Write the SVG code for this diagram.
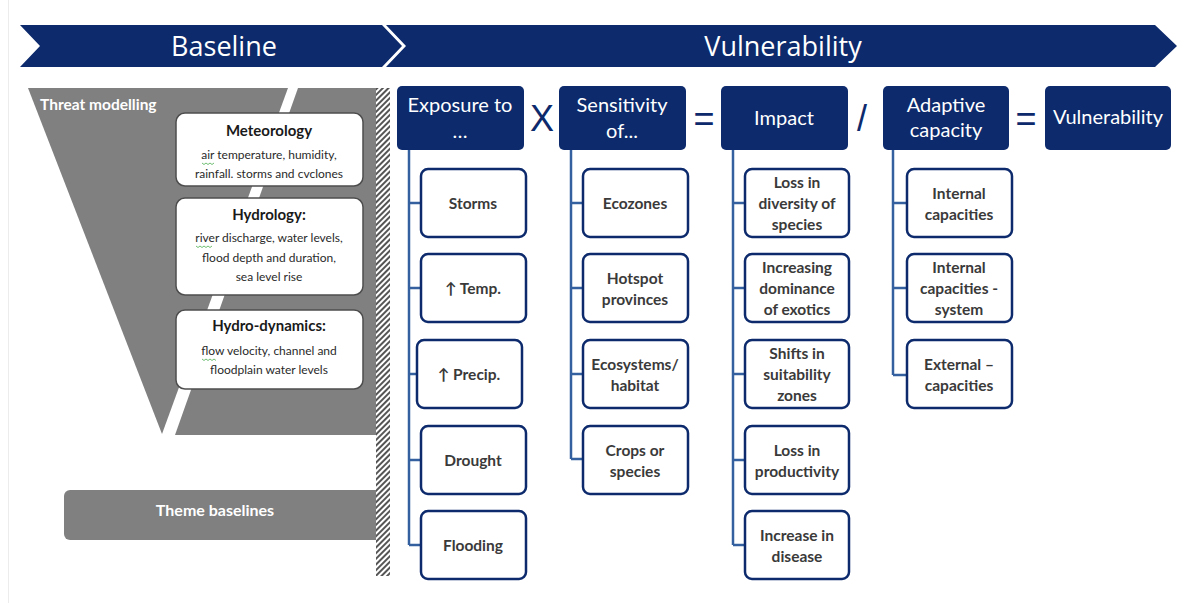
<svg xmlns="http://www.w3.org/2000/svg" width="1200" height="603" viewBox="0 0 1200 603">
  <defs>
    <pattern id="hatch" width="4" height="4" patternUnits="userSpaceOnUse" patternTransform="rotate(45)">
      <rect width="4" height="4" fill="#ffffff"/>
      <rect width="2" height="4" fill="#555555"/>
    </pattern>
    <style>
      .band { fill: #0c2a6c; }
      .bandtxt { font-family: "Open Sans", "Liberation Sans", sans-serif; font-size: 27px; fill: #ffffff; text-anchor: middle; dominant-baseline: central; }
      .grey { fill: #808080; }
      .greytxt { font-family: Lato, "Liberation Sans", sans-serif; font-weight: bold; fill: #ffffff; }
      .card { fill: #ffffff; stroke: #4d4d4d; stroke-width: 1.5; }
      .cardhead { font-family: Lato, "Liberation Sans", sans-serif; font-weight: bold; font-size: 15px; fill: #1a1a1a; text-anchor: middle; }
      .cardbody { font-family: Lato, "Liberation Sans", sans-serif; font-size: 12px; fill: #2a2a2a; text-anchor: middle; }
      .squiggle { fill: none; stroke: #4caf50; stroke-width: 0.8; }
      .head { fill: #0c2a6c; }
      .headtxt { font-family: Lato, "Liberation Sans", sans-serif; font-size: 20px; fill: #ffffff; text-anchor: middle; }
      .op { font-family: "Liberation Sans", Arial, sans-serif; font-size: 36px; fill: #0c2a6c; text-anchor: middle; }
      .item { fill: #ffffff; stroke: #0c2a6c; stroke-width: 2.5; }
      .itemtxt { font-family: Lato, "Liberation Sans", sans-serif; font-weight: bold; font-size: 15.5px; fill: #3a3a3a; text-anchor: middle; }
      .link { fill: none; stroke: #3560a0; stroke-width: 2.5; }
    </style>
  </defs>

  <rect width="1200" height="603" fill="#ffffff"/>
  <line x1="8.5" y1="0" x2="8.5" y2="603" stroke="#ececec" stroke-width="1"/>

  <!-- top phase bands -->
  <g id="band-baseline">
    <polygon class="band" points="20,25 382,25 402,46 382,67 20,67 40,46"/>
    <text class="bandtxt" x="224" y="45">Baseline</text>
  </g>
  <g id="band-vulnerability">
    <polygon class="band" points="386,25 1155,25 1177,46 1155,67 386,67 406,46"/>
    <text class="bandtxt" x="783" y="45">Vulnerability</text>
  </g>

  <!-- threat modelling funnel -->
  <g id="threat-modelling">
    <polygon class="grey" points="28,88 288,88 162,434"/>
    <polygon class="grey" points="298,88 378,88 378,435 175,435"/>
    <text class="greytxt" x="40" y="110" font-size="15.5">Threat modelling</text>
  </g>

  <g id="meteorology">
    <rect class="card" x="176" y="113" width="187" height="73" rx="9"/>
    <text class="cardhead" x="269" y="136">Meteorology</text>
    <text class="cardbody" x="269" y="159">air temperature, humidity,</text>
    <text class="cardbody" x="269" y="178">rainfall. storms and cvclones</text>
    <path class="squiggle" d="M202,163 l2,1.5 l2,-1.5 l2,1.5 l2,-1.5 l2,1.5 l2,-1.5"/>
  </g>

  <g id="hydrology">
    <rect class="card" x="176" y="198" width="187" height="97" rx="9"/>
    <text class="cardhead" x="269" y="220">Hydrology:</text>
    <text class="cardbody" x="269" y="242">river discharge, water levels,</text>
    <text class="cardbody" x="269" y="262">flood depth and duration,</text>
    <text class="cardbody" x="269" y="281">sea level rise</text>
    <path class="squiggle" d="M196,246 l2,1.5 l2,-1.5 l2,1.5 l2,-1.5 l2,1.5 l2,-1.5 l2,1.5 l2,-1.5"/>
  </g>

  <g id="hydro-dynamics">
    <rect class="card" x="176" y="310" width="187" height="79" rx="9"/>
    <text class="cardhead" x="269" y="331">Hydro-dynamics:</text>
    <text class="cardbody" x="269" y="355">flow velocity, channel and</text>
    <text class="cardbody" x="269" y="374">floodplain water levels</text>
    <path class="squiggle" d="M202,359 l2,1.5 l2,-1.5 l2,1.5 l2,-1.5 l2,1.5 l2,-1.5 l2,1.5"/>
  </g>

  <g id="theme-baselines">
    <rect class="grey" x="64" y="490" width="320" height="50" rx="6"/>
    <text class="greytxt" x="215" y="516" font-size="16" text-anchor="middle">Theme baselines</text>
  </g>

  <!-- hatched divider between baseline and vulnerability -->
  <rect x="376" y="88" width="14" height="488" fill="url(#hatch)"/>

  <!-- connectors: column spines and branches -->
  <g id="connectors">
    <path class="link" d="M409,150 V545 M409,203 H421 M409,288 H421 M409,374 H417 M409,460 H421 M409,545 H421"/>
    <path class="link" d="M571,150 V459 M571,203 H583 M571,288 H583 M571,374 H583 M571,459 H583"/>
    <path class="link" d="M733,150 V545 M733,203 H745 M733,288 H745 M733,374 H745 M733,460 H745 M733,545 H745"/>
    <path class="link" d="M893,150 V375 M893,203 H907 M893,288 H907 M893,375 H907"/>
  </g>

  <!-- equation headers -->
  <g id="exposure">
    <rect class="head" x="397" y="86" width="127" height="64" rx="5"/>
    <text class="headtxt" x="460" y="112">Exposure to</text>
    <text class="headtxt" x="460" y="138">…</text>
  </g>
  <text class="op" x="542" y="131">X</text>
  <g id="sensitivity">
    <rect class="head" x="559" y="86" width="127" height="64" rx="5"/>
    <text class="headtxt" x="622" y="112">Sensitivity</text>
    <text class="headtxt" x="622" y="138">of...</text>
  </g>
  <text class="op" x="704" y="131">=</text>
  <g id="impact">
    <rect class="head" x="721" y="86" width="127" height="64" rx="5"/>
    <text class="headtxt" x="784" y="125">Impact</text>
  </g>
  <text class="op" x="862" y="131">/</text>
  <g id="adaptive-capacity">
    <rect class="head" x="883" y="86" width="126" height="64" rx="5"/>
    <text class="headtxt" x="946" y="112">Adaptive</text>
    <text class="headtxt" x="946" y="137">capacity</text>
  </g>
  <text class="op" x="1026" y="131">=</text>
  <g id="vulnerability">
    <rect class="head" x="1045" y="86" width="126" height="64" rx="5"/>
    <text class="headtxt" x="1108" y="124">Vulnerability</text>
  </g>

  <!-- exposure items -->
  <g id="exp-storms"><rect class="item" x="421" y="169" width="105" height="68" rx="7"/><text class="itemtxt" x="473" y="209">Storms</text></g>
  <g id="exp-temp"><rect class="item" x="421" y="254" width="105" height="68" rx="7"/><text class="itemtxt" x="473" y="294">↑ Temp.</text></g>
  <g id="exp-precip"><rect class="item" x="417" y="340" width="105" height="68" rx="7"/><text class="itemtxt" x="469" y="380">↑ Precip.</text></g>
  <g id="exp-drought"><rect class="item" x="421" y="426" width="105" height="68" rx="7"/><text class="itemtxt" x="473" y="466">Drought</text></g>
  <g id="exp-flooding"><rect class="item" x="421" y="511" width="105" height="68" rx="7"/><text class="itemtxt" x="473" y="551">Flooding</text></g>

  <!-- sensitivity items -->
  <g id="sen-ecozones"><rect class="item" x="583" y="169" width="105" height="68" rx="7"/><text class="itemtxt" x="635" y="209">Ecozones</text></g>
  <g id="sen-hotspot"><rect class="item" x="583" y="254" width="105" height="68" rx="7"/><text class="itemtxt" x="635" y="284">Hotspot</text><text class="itemtxt" x="635" y="305">provinces</text></g>
  <g id="sen-ecosystems"><rect class="item" x="583" y="340" width="105" height="68" rx="7"/><text class="itemtxt" x="635" y="370">Ecosystems/</text><text class="itemtxt" x="635" y="391">habitat</text></g>
  <g id="sen-crops"><rect class="item" x="583" y="426" width="105" height="68" rx="7"/><text class="itemtxt" x="635" y="456">Crops or</text><text class="itemtxt" x="635" y="477">species</text></g>

  <!-- impact items -->
  <g id="imp-diversity"><rect class="item" x="745" y="169" width="104" height="68" rx="7"/><text class="itemtxt" x="797" y="188">Loss in</text><text class="itemtxt" x="797" y="209">diversity of</text><text class="itemtxt" x="797" y="230">species</text></g>
  <g id="imp-exotics"><rect class="item" x="745" y="254" width="104" height="68" rx="7"/><text class="itemtxt" x="797" y="273">Increasing</text><text class="itemtxt" x="797" y="294">dominance</text><text class="itemtxt" x="797" y="315">of exotics</text></g>
  <g id="imp-shifts"><rect class="item" x="745" y="340" width="104" height="68" rx="7"/><text class="itemtxt" x="797" y="359">Shifts in</text><text class="itemtxt" x="797" y="380">suitability</text><text class="itemtxt" x="797" y="401">zones</text></g>
  <g id="imp-productivity"><rect class="item" x="745" y="426" width="104" height="68" rx="7"/><text class="itemtxt" x="797" y="456">Loss in</text><text class="itemtxt" x="797" y="477">productivity</text></g>
  <g id="imp-disease"><rect class="item" x="745" y="511" width="104" height="68" rx="7"/><text class="itemtxt" x="797" y="541">Increase in</text><text class="itemtxt" x="797" y="562">disease</text></g>

  <!-- adaptive capacity items -->
  <g id="ada-internal"><rect class="item" x="907" y="169" width="105" height="68" rx="7"/><text class="itemtxt" x="959" y="199">Internal</text><text class="itemtxt" x="959" y="220">capacities</text></g>
  <g id="ada-system"><rect class="item" x="907" y="254" width="105" height="68" rx="7"/><text class="itemtxt" x="959" y="273">Internal</text><text class="itemtxt" x="959" y="294">capacities -</text><text class="itemtxt" x="959" y="315">system</text></g>
  <g id="ada-external"><rect class="item" x="907" y="340" width="105" height="68" rx="7"/><text class="itemtxt" x="959" y="370">External –</text><text class="itemtxt" x="959" y="391">capacities</text></g>
</svg>
